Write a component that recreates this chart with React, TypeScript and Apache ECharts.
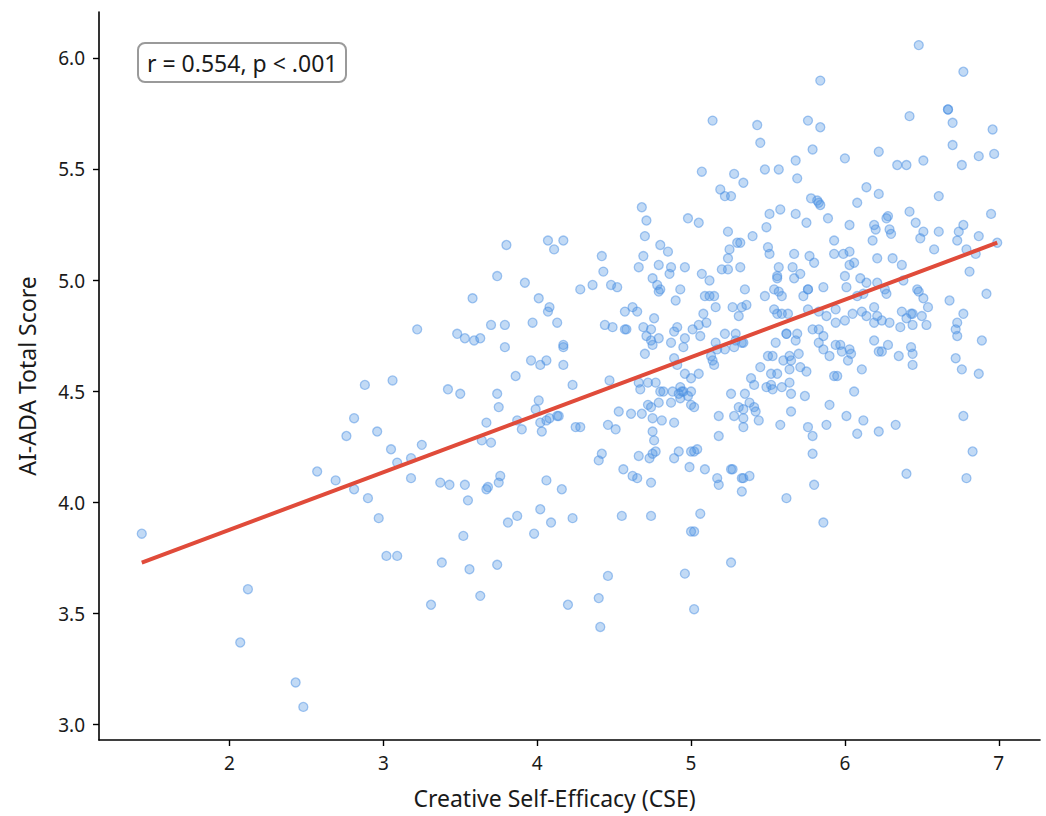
import React, { useEffect, useRef } from 'react';
import * as echarts from 'echarts';

const xTicks = [2, 3, 4, 5, 6, 7];
const yTicks = [3.0, 3.5, 4.0, 4.5, 5.0, 5.5, 6.0];
const xAxisTitle = 'Creative Self-Efficacy (CSE)';
const yAxisTitle = 'AI-ADA Total Score';
const statLabel = 'r = 0.554, p < .001';

// [CSE, AI-ADA] observations, CSE below 3.5
const lowCse: [number, number][] = [
  [1.43, 3.86], [2.12, 3.61], [2.07, 3.37], [2.43, 3.19], [2.48, 3.08], [2.88, 4.53], [3.06, 4.55],
  [2.81, 4.38], [2.76, 4.30], [2.96, 4.32], [3.05, 4.24], [3.09, 4.18], [2.57, 4.14], [2.69, 4.10],
  [2.81, 4.06], [2.90, 4.02], [2.97, 3.93], [3.02, 3.76], [3.09, 3.76], [3.22, 4.78], [3.48, 4.76],
  [3.25, 4.26], [3.18, 4.20], [3.18, 4.11], [3.37, 4.09], [3.43, 4.08], [3.42, 4.51], [3.31, 3.54],
  [3.38, 3.73],
];

// CSE 3.5 – 4.5
const midLowCse: [number, number][] = [
  [3.80, 5.16], [4.07, 5.18], [4.11, 5.14], [4.17, 5.18], [3.74, 5.02], [3.92, 4.99], [3.58, 4.92],
  [4.01, 4.92], [4.08, 4.88], [4.07, 4.86], [3.53, 4.74], [3.59, 4.73], [3.63, 4.74], [3.70, 4.80],
  [3.79, 4.80], [3.97, 4.81], [4.13, 4.81], [3.79, 4.70], [3.96, 4.64], [4.02, 4.62], [4.06, 4.64],
  [4.17, 4.71], [4.17, 4.70], [4.17, 4.62], [3.86, 4.57], [3.50, 4.49], [3.74, 4.49], [3.75, 4.43],
  [4.01, 4.46], [3.99, 4.42], [4.02, 4.36], [4.06, 4.37], [4.08, 4.38], [4.13, 4.39], [4.14, 4.39],
  [3.87, 4.37], [3.90, 4.33], [4.03, 4.32], [3.67, 4.36], [3.64, 4.28], [3.70, 4.27],
  [3.53, 4.08], [3.55, 4.01], [3.67, 4.06], [3.68, 4.07], [3.75, 4.09], [3.76, 4.12], [4.06, 4.10],
  [4.16, 4.06], [3.81, 3.91], [3.87, 3.94], [4.02, 3.97], [3.98, 3.86], [4.09, 3.91], [3.52, 3.85],
  [3.56, 3.70], [3.74, 3.72], [3.63, 3.58], [4.20, 3.54], [4.40, 3.57], [4.41, 3.44],
  [4.42, 5.11], [4.43, 5.04], [4.28, 4.96], [4.36, 4.98], [4.48, 4.98], [4.44, 4.80], [4.49, 4.79],
  [4.23, 4.53], [4.47, 4.55], [4.25, 4.34], [4.28, 4.34], [4.46, 4.35], [4.42, 4.22], [4.40, 4.19],
  [4.23, 3.93], [4.46, 3.67],
];

// CSE 4.5 – 5.2
const midCse: [number, number][] = [
  [5.07, 5.49], [5.19, 5.41], [4.68, 5.33], [4.71, 5.27], [4.98, 5.28], [5.05, 5.26], [4.70, 5.20],
  [4.80, 5.16], [4.85, 5.13], [4.69, 5.11], [4.66, 5.06], [4.79, 5.07], [4.87, 5.06], [4.86, 5.03],
  [4.96, 5.06], [5.07, 5.03], [5.12, 5.00], [4.75, 5.01], [4.78, 4.98], [4.80, 4.96], [4.79, 4.95],
  [4.93, 4.96], [4.90, 4.91], [4.52, 4.97], [5.09, 4.93], [5.12, 4.93], [5.15, 4.93], [5.16, 4.88],
  [4.57, 4.86], [4.62, 4.88], [4.65, 4.86], [4.76, 4.83], [5.08, 4.85], [4.57, 4.78], [4.58, 4.78],
  [4.69, 4.79], [4.74, 4.78], [4.71, 4.75], [4.74, 4.73], [4.75, 4.71], [4.79, 4.74], [4.91, 4.79],
  [4.89, 4.77], [4.87, 4.72], [4.96, 4.74], [4.95, 4.70], [5.01, 4.78], [5.06, 4.75], [5.05, 4.80],
  [5.10, 4.81], [4.70, 4.67], [5.16, 4.72], [5.17, 4.69], [4.89, 4.65], [4.91, 4.62], [5.13, 4.66],
  [5.14, 4.64], [5.15, 4.62], [4.66, 4.54], [4.72, 4.54], [4.77, 4.54], [4.96, 4.58], [5.00, 4.56],
  [5.05, 4.58], [4.67, 4.51], [4.80, 4.50], [4.82, 4.50], [4.88, 4.50], [4.93, 4.52], [4.94, 4.50],
  [4.95, 4.50], [5.00, 4.50], [4.93, 4.47],
  [4.92, 4.49], [4.98, 4.48], [5.00, 4.44], [5.02, 4.43], [4.72, 4.44], [4.74, 4.43], [4.79, 4.45],
  [4.87, 4.45], [4.53, 4.41], [4.61, 4.40], [4.68, 4.40], [4.75, 4.38], [4.81, 4.37], [4.89, 4.36],
  [4.51, 4.33], [4.75, 4.32], [4.76, 4.28], [4.66, 4.21], [4.73, 4.20], [4.75, 4.22], [4.77, 4.23],
  [4.92, 4.23], [4.89, 4.20], [5.00, 4.23], [5.02, 4.23], [5.04, 4.24], [4.99, 4.16], [5.09, 4.15],
  [4.56, 4.15], [4.62, 4.12], [4.65, 4.11], [4.74, 4.09], [5.17, 4.11], [5.18, 4.08], [5.18, 4.39],
  [5.18, 4.30], [4.55, 3.94], [4.74, 3.94], [5.06, 3.95], [5.00, 3.87], [5.02, 3.87], [4.96, 3.68],
  [5.02, 3.52],
];

// CSE 5.2 – 6.25
const midHighCse: [number, number][] = [
  [5.84, 5.90], [5.14, 5.72], [5.43, 5.70], [5.76, 5.72], [5.84, 5.69], [5.45, 5.62], [5.79, 5.59],
  [5.68, 5.54], [6.00, 5.55], [6.22, 5.58], [5.48, 5.50], [5.57, 5.50], [5.69, 5.46], [5.28, 5.48],
  [5.34, 5.44], [5.22, 5.38], [5.26, 5.38], [6.14, 5.42], [6.22, 5.39], [5.78, 5.37], [5.82, 5.36],
  [5.83, 5.35], [5.84, 5.34], [6.08, 5.35], [5.51, 5.30], [5.58, 5.32], [5.68, 5.30], [5.75, 5.26],
  [5.89, 5.28], [6.03, 5.25], [6.19, 5.25], [6.20, 5.23], [5.24, 5.22], [5.40, 5.20], [5.49, 5.24],
  [5.30, 5.17], [5.32, 5.17], [5.25, 5.14], [5.24, 5.10], [5.50, 5.15], [5.51, 5.12], [5.67, 5.12],
  [5.77, 5.11], [5.80, 5.08], [5.93, 5.18], [5.93, 5.12], [5.99, 5.12], [6.03, 5.13], [6.03, 5.07],
  [6.06, 5.08], [6.18, 5.18], [6.21, 5.10], [5.20, 5.05], [5.24, 5.05], [5.32, 5.06], [5.57, 5.06],
  [5.66, 5.06], [5.71, 5.03], [5.67, 5.01], [5.56, 5.02], [5.56, 5.01], [6.00, 5.02], [6.01, 4.97],
  [6.10, 5.01], [6.14, 4.99], [5.35, 4.96], [5.54, 4.96], [5.57, 4.95], [5.76, 4.96], [5.76, 4.96],
  [5.86, 4.97], [5.48, 4.93], [5.59, 4.93], [5.73, 4.93], [6.08, 4.93], [6.12, 4.94], [6.21, 4.99],
  [5.27, 4.88], [5.31, 4.84], [5.33, 4.88], [5.36, 4.89], [5.54, 4.87], [5.56, 4.85], [5.59, 4.85],
  [5.63, 4.85], [5.76, 4.87], [5.83, 4.86], [5.88, 4.84], [5.94, 4.87], [5.94, 4.81], [6.00, 4.82],
  [6.05, 4.85], [6.11, 4.86], [6.14, 4.84], [6.19, 4.88], [6.19, 4.81], [6.21, 4.84], [5.22, 4.76],
  [5.29, 4.76], [5.29, 4.73], [5.33, 4.72], [5.34, 4.72], [5.22, 4.69], [5.28, 4.70], [5.55, 4.72],
  [5.62, 4.76], [5.62, 4.76], [5.69, 4.76], [5.68, 4.73], [5.79, 4.78], [5.83, 4.78], [5.86, 4.75],
  [5.83, 4.72], [5.86, 4.69], [5.90, 4.66], [5.94, 4.71], [5.97, 4.71], [5.98, 4.68], [6.03, 4.69],
  [6.04, 4.67], [6.02, 4.64], [6.19, 4.73], [6.22, 4.68], [5.50, 4.66], [5.53, 4.66], [5.60, 4.64],
  [5.64, 4.66], [5.65, 4.64], [5.64, 4.60], [5.70, 4.67], [5.71, 4.61], [5.75, 4.59], [5.45, 4.61],
  [5.52, 4.58], [5.56, 4.58], [5.39, 4.56], [5.41, 4.53], [5.49, 4.52], [5.52, 4.53], [5.53, 4.51],
  [5.59, 4.52], [5.64, 4.54], [5.65, 4.49], [5.74, 4.48], [5.93, 4.57], [5.95, 4.57], [6.11, 4.60],
  [6.06, 4.50], [5.26, 4.49], [5.35, 4.49], [5.31, 4.43], [5.34, 4.42], [5.38, 4.45], [5.41, 4.43],
  [5.42, 4.41], [5.44, 4.37], [5.28, 4.39], [5.34, 4.38], [5.34, 4.34], [5.65, 4.41], [5.58, 4.35],
  [5.76, 4.34], [5.79, 4.30], [5.90, 4.44], [5.88, 4.35], [6.01, 4.39], [6.12, 4.37], [6.08, 4.31],
  [6.22, 4.32], [5.79, 4.22], [5.26, 4.15], [5.27, 4.15], [5.33, 4.11], [5.34, 4.11], [5.38, 4.12],
  [5.33, 4.05], [5.62, 4.02], [5.80, 4.08], [5.86, 3.91], [5.26, 3.73],
];

// CSE above 6.25
const highCse: [number, number][] = [
  [6.48, 6.06], [6.77, 5.94], [6.67, 5.77], [6.67, 5.77], [6.42, 5.74], [6.70, 5.71], [6.96, 5.68],
  [6.70, 5.61], [6.34, 5.52], [6.40, 5.52], [6.51, 5.54], [6.76, 5.52], [6.87, 5.56], [6.97, 5.57],
  [6.61, 5.38], [6.42, 5.31], [6.28, 5.29], [6.27, 5.28], [6.46, 5.26], [6.95, 5.30], [6.29, 5.23],
  [6.30, 5.21], [6.51, 5.22], [6.49, 5.19], [6.61, 5.22], [6.74, 5.22], [6.77, 5.25], [6.73, 5.18],
  [6.87, 5.20], [6.99, 5.17], [6.58, 5.14], [6.79, 5.14], [6.85, 5.12], [6.31, 5.10],
  [6.37, 5.07], [6.81, 5.04], [6.38, 5.00], [6.26, 4.96], [6.27, 4.94], [6.47, 4.96], [6.48, 4.95],
  [6.51, 4.92], [6.68, 4.91], [6.92, 4.94], [6.24, 4.82], [6.29, 4.81], [6.37, 4.86], [6.40, 4.83],
  [6.43, 4.85], [6.44, 4.85], [6.50, 4.84], [6.54, 4.88], [6.36, 4.79], [6.44, 4.80], [6.53, 4.80],
  [6.77, 4.85], [6.73, 4.81], [6.72, 4.78], [6.73, 4.75], [6.28, 4.71], [6.24, 4.68], [6.35, 4.66],
  [6.43, 4.70], [6.44, 4.67], [6.44, 4.62], [6.89, 4.73], [6.72, 4.65], [6.76, 4.60], [6.87, 4.58],
  [6.77, 4.39], [6.33, 4.35], [6.83, 4.23], [6.40, 4.13], [6.79, 4.11],
];

const regressionLine: [number, number][] = [
  [1.43, 3.73],
  [6.99, 5.17],
];

const FONT = 'Noto Sans';

export default function App() {
  const ref = useRef<HTMLDivElement>(null);

  useEffect(() => {
    if (!ref.current) return;
    const chart = echarts.init(ref.current, null, { renderer: 'svg' });
    const points = [...lowCse, ...midLowCse, ...midCse, ...midHighCse, ...highCse];
    chart.setOption({
      animation: false,
      backgroundColor: '#ffffff',
      title: {
        text: statLabel,
        left: 138,
        top: 43,
        padding: [6, 9, 6, 9],
        borderColor: '#9a9a9a',
        borderWidth: 2,
        borderRadius: 7,
        backgroundColor: '#ffffff',
        textStyle: { fontFamily: FONT, fontSize: 23, fontWeight: 'normal', color: '#1a1a1a', lineHeight: 27 },
      },
      grid: { left: 99, right: 6, top: 12, bottom: 76, containLabel: false },
      xAxis: {
        type: 'value',
        min: 1.152,
        max: 7.268,
        name: xAxisTitle,
        nameLocation: 'middle',
        nameGap: 46,
        nameTextStyle: { fontFamily: FONT, fontSize: 23, color: '#1a1a1a', padding: [0, 30, 0, 0] },
        axisLine: { show: true, onZero: false, lineStyle: { color: '#000', width: 1.6 } },
        axisTick: { show: true, customValues: xTicks, length: 6, lineStyle: { color: '#000', width: 1.4 } },
        axisLabel: {
          customValues: xTicks,
          fontFamily: FONT,
          fontSize: 19,
          color: '#1a1a1a',
          margin: 13,
          formatter: (v: number) => String(v),
        },
        splitLine: { show: false },
      },
      yAxis: {
        type: 'value',
        min: 2.931,
        max: 6.209,
        name: yAxisTitle,
        nameLocation: 'middle',
        nameGap: 61,
        nameTextStyle: { fontFamily: FONT, fontSize: 23, color: '#1a1a1a' },
        axisLine: { show: true, onZero: false, lineStyle: { color: '#000', width: 1.6 } },
        axisTick: { show: true, customValues: yTicks, length: 6, lineStyle: { color: '#000', width: 1.4 } },
        axisLabel: {
          customValues: yTicks,
          fontFamily: FONT,
          fontSize: 19,
          color: '#1a1a1a',
          margin: 14,
          formatter: (v: number) => v.toFixed(1),
        },
        splitLine: { show: false },
      },
      series: [
        {
          type: 'scatter',
          data: points,
          symbol: 'circle',
          symbolSize: 9,
          itemStyle: {
            color: 'rgba(74,144,226,0.42)',
            borderColor: 'rgba(74,144,226,0.62)',
            borderWidth: 1.3,
          },
          z: 2,
        },
        {
          type: 'line',
          data: regressionLine,
          symbol: 'none',
          lineStyle: { color: '#e04b3a', width: 4 },
          z: 3,
        },
      ],
    });
    return () => chart.dispose();
  }, []);

  return (
    <div
      ref={ref}
      style={{ position: 'fixed', left: 0, top: 0, width: 1046, height: 816, background: '#fff' }}
    />
  );
}
